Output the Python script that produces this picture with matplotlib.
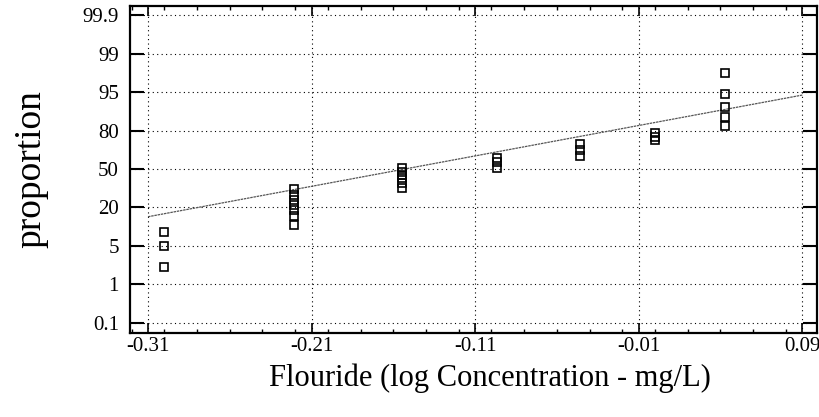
import numpy as np
import matplotlib
matplotlib.use("Agg")
import matplotlib.pyplot as plt
from matplotlib.ticker import FixedLocator, FixedFormatter, MultipleLocator

# ---------------- data ----------------
x_ticks = [-0.31, -0.21, -0.11, -0.01, 0.09]
x_tick_labels = ["-0.31", "-0.21", "-0.11", "-0.01", "0.09"]
y_ticks = [0.1, 1, 5, 20, 50, 80, 95, 99, 99.9]
y_tick_labels = ["0.1", "1", "5", "20", "50", "80", "95", "99", "99.9"]

conc_1 = [-0.300, -0.300, -0.300]
prop_1 = [10.5, 5.0, 2.8]
conc_2 = [-0.221] * 7
prop_2 = [34.4, 29.6, 25.7, 21.8, 19.1, 16.7, 13.3]
conc_3 = [-0.155] * 6
prop_3 = [50.9, 47.5, 45.5, 43.1, 39.2, 35.3]
conc_4 = [-0.0965] * 3
prop_4 = [58.7, 55.1, 50.9]
conc_5 = [-0.046] * 3
prop_5 = [69.5, 64.7, 60.2]
conc_6 = [0.000] * 3
prop_6 = [78.0, 75.0, 72.5]
conc_7 = [0.043] * 5
prop_7 = [97.0, 94.2, 89.0, 85.4, 81.8]

fit_conc = [-0.31, 0.09]
fit_prop = [16.4, 93.8]

# ---------------- probability-paper scale ----------------
TV = np.array(y_ticks, float)
POS = np.arange(len(TV), dtype=float)


def forward(p):
    p = np.asarray(p, float)
    shp = p.shape
    p = np.atleast_1d(p).ravel()
    out = np.interp(p, TV, POS)
    lo = p < TV[0]
    out[lo] = POS[0] + (p[lo] - TV[0]) / (TV[1] - TV[0])
    hi = p > TV[-1]
    out[hi] = POS[-1] + (p[hi] - TV[-1]) / (TV[-1] - TV[-2])
    return out.reshape(shp)


def inverse(z):
    z = np.asarray(z, float)
    shp = z.shape
    z = np.atleast_1d(z).ravel()
    out = np.interp(z, POS, TV)
    lo = z < POS[0]
    out[lo] = TV[0] + (z[lo] - POS[0]) * (TV[1] - TV[0])
    hi = z > POS[-1]
    out[hi] = TV[-1] + (z[hi] - POS[-1]) * (TV[-1] - TV[-2])
    return out.reshape(shp)


plt.rcParams["font.family"] = ["Liberation Serif", "DejaVu Serif"]

fig = plt.figure(figsize=(8.2, 4.17), dpi=100)
ax = fig.add_axes([130 / 820, 1 - 333 / 417, (817 - 130) / 820, (333 - 6) / 417])
ax.set_yscale("function", functions=(forward, inverse))

ax.set_xlim(-0.321, 0.099)
ax.set_ylim(float(inverse(-0.26)), float(inverse(8.234)))

grid_kw = dict(color="black", lw=0.8, linestyle=(0, (1, 3)), zorder=1)
for xt in x_ticks:
    ax.axvline(xt, **grid_kw)
for yt in y_ticks:
    ax.axhline(yt, **grid_kw)

ax.plot(fit_conc, fit_prop, color="#555555", lw=0.9, linestyle=(0, (2, 0.6)), zorder=2)

for cx, cy in [(conc_1, prop_1), (conc_2, prop_2), (conc_3, prop_3), (conc_4, prop_4),
               (conc_5, prop_5), (conc_6, prop_6), (conc_7, prop_7)]:
    ax.plot(cx, cy, linestyle="none", marker="s", markersize=6, mfc="none",
            mec="black", mew=1.2, zorder=3)

ax.yaxis.set_major_locator(FixedLocator(y_ticks))
ax.yaxis.set_major_formatter(FixedFormatter(y_tick_labels))
ax.yaxis.set_minor_locator(FixedLocator([]))
ax.xaxis.set_major_locator(FixedLocator(x_ticks))
ax.xaxis.set_major_formatter(FixedFormatter(x_tick_labels))
ax.xaxis.set_minor_locator(MultipleLocator(0.02))

ax.tick_params(axis="y", which="major", direction="in", length=10, width=1.5,
               left=True, right=True, labelsize=15, pad=8, color="black")
ax.tick_params(axis="x", which="major", direction="in", length=7, width=1.2,
               top=True, bottom=True, labelsize=15, pad=3)
ax.tick_params(axis="x", which="minor", direction="in", length=3, width=1.0,
               top=True, bottom=True)

for s in ax.spines.values():
    s.set_linewidth(1.6)
    s.set_color("black")

fig.text(31 / 820, 1 - 169 / 417, "proportion", rotation=90, ha="center", va="center",
         fontsize=27)
fig.text(490 / 820, 1 - 378 / 417, "Flouride (log Concentration - mg/L)", ha="center",
         va="center", fontsize=22)

fig.savefig("out.png", dpi=100)
